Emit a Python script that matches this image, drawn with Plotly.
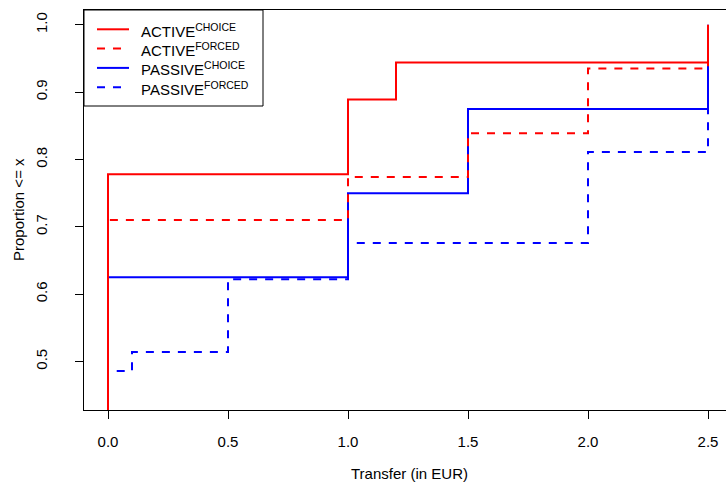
import plotly.graph_objects as go

# ECDF knots (transfer in EUR) and cumulative proportions per group
active_choice_x = [0.0, 0.0, 1.0, 1.2, 2.5]
active_choice_y = [0.0, 0.778, 0.889, 0.944, 1.0]

active_forced_x = [0.0, 0.0, 1.0, 1.5, 2.0, 2.5]
active_forced_y = [0.0, 0.710, 0.774, 0.839, 0.935, 1.0]

passive_choice_x = [0.0, 0.0, 1.0, 1.5, 2.5]
passive_choice_y = [0.0, 0.625, 0.750, 0.875, 1.0]

passive_forced_x = [0.0, 0.0, 0.1, 0.5, 1.0, 2.0, 2.5]
passive_forced_y = [0.0, 0.486, 0.514, 0.622, 0.676, 0.811, 1.0]

x_ticks = [0.0, 0.5, 1.0, 1.5, 2.0, 2.5]
x_tick_labels = ["0.0", "0.5", "1.0", "1.5", "2.0", "2.5"]
y_ticks = [0.5, 0.6, 0.7, 0.8, 0.9, 1.0]
y_tick_labels = ["0.5", "0.6", "0.7", "0.8", "0.9", "1.0"]

legend_labels = ["ACTIVE<sup>CHOICE</sup>", "ACTIVE<sup>FORCED</sup>",
                 "PASSIVE<sup>CHOICE</sup>", "PASSIVE<sup>FORCED</sup>"]
legend_colors = ["#FF0000", "#FF0000", "#0000FF", "#0000FF"]
legend_dashes = ["solid", "8px,8px", "solid", "8px,8px"]

FONT = "Liberation Sans, Arial, sans-serif"
W, H = 726, 485
L, R, T, B = 84, 0, 10, 75

fig = go.Figure()
series = [
    (passive_forced_x, passive_forced_y, "#0000FF", "8px,8px"),
    (passive_choice_x, passive_choice_y, "#0000FF", "solid"),
    (active_forced_x, active_forced_y, "#FF0000", "8px,8px"),
    (active_choice_x, active_choice_y, "#FF0000", "solid"),
]
for xs, ys, c, d in series:
    fig.add_trace(go.Scatter(x=xs, y=ys, mode="lines", line_shape="hv",
                             line=dict(color=c, width=2, dash=d),
                             showlegend=False, hoverinfo="skip"))

pw = W - L - R
ph = H - T - B

def px2paper_x(px):
    return (px - L) / pw

def px2paper_y(py):
    return (H - B - py) / ph

shapes = [dict(type="rect", xref="paper", yref="paper",
               x0=px2paper_x(84), x1=px2paper_x(263),
               y0=px2paper_y(106), y1=px2paper_y(10),
               line=dict(color="black", width=1), fillcolor="white", layer="above")]
annotations = []
row_y = [29.3, 48.6, 67.9, 87.2]
for lab, c, d, ry in zip(legend_labels, legend_colors, legend_dashes, row_y):
    shapes.append(dict(type="line", xref="paper", yref="paper",
                       x0=px2paper_x(97), x1=px2paper_x(129),
                       y0=px2paper_y(ry), y1=px2paper_y(ry),
                       line=dict(color=c, width=2, dash=d), layer="above"))
    annotations.append(dict(text=lab, xref="paper", yref="paper",
                            x=px2paper_x(139), y=px2paper_y(ry + 1.0),
                            xanchor="left", yanchor="middle", showarrow=False,
                            font=dict(family=FONT, size=15, color="black")))

annotations.append(dict(text="Transfer (in EUR)", xref="paper", yref="paper",
                        x=px2paper_x(409), y=px2paper_y(473), xanchor="center",
                        yanchor="middle", showarrow=False,
                        font=dict(family=FONT, size=15, color="black")))
annotations.append(dict(text="Proportion <= x", xref="paper", yref="paper",
                        x=px2paper_x(18), y=px2paper_y(210), xanchor="center",
                        yanchor="middle", showarrow=False, textangle=-90,
                        font=dict(family=FONT, size=15, color="black")))

fig.update_layout(
    width=W, height=H,
    margin=dict(l=L, r=R, t=T, b=B),
    paper_bgcolor="white", plot_bgcolor="white",
    font=dict(family=FONT, size=15, color="black"),
    shapes=shapes, annotations=annotations,
    xaxis=dict(range=[-0.1, 2.575], tickvals=x_ticks, ticktext=x_tick_labels,
               showgrid=False, zeroline=False, showline=True, mirror=True,
               linecolor="black", linewidth=1, ticks="outside", ticklen=8,
               tickcolor="black", ticklabelstandoff=10,
               tickfont=dict(family=FONT, size=15)),
    yaxis=dict(range=[0.428, 1.022], tickvals=y_ticks, ticktext=y_tick_labels,
               showgrid=False, zeroline=False, showline=True,
               linecolor="black", linewidth=1, ticks="outside", ticklen=8,
               tickcolor="black", tickangle=-90, ticklabelstandoff=22,
               tickfont=dict(family=FONT, size=15)),
)

fig.write_html("out.html", config={"displayModeBar": False},
               post_script="document.body.style.margin='0';document.body.style.overflow='hidden';")
